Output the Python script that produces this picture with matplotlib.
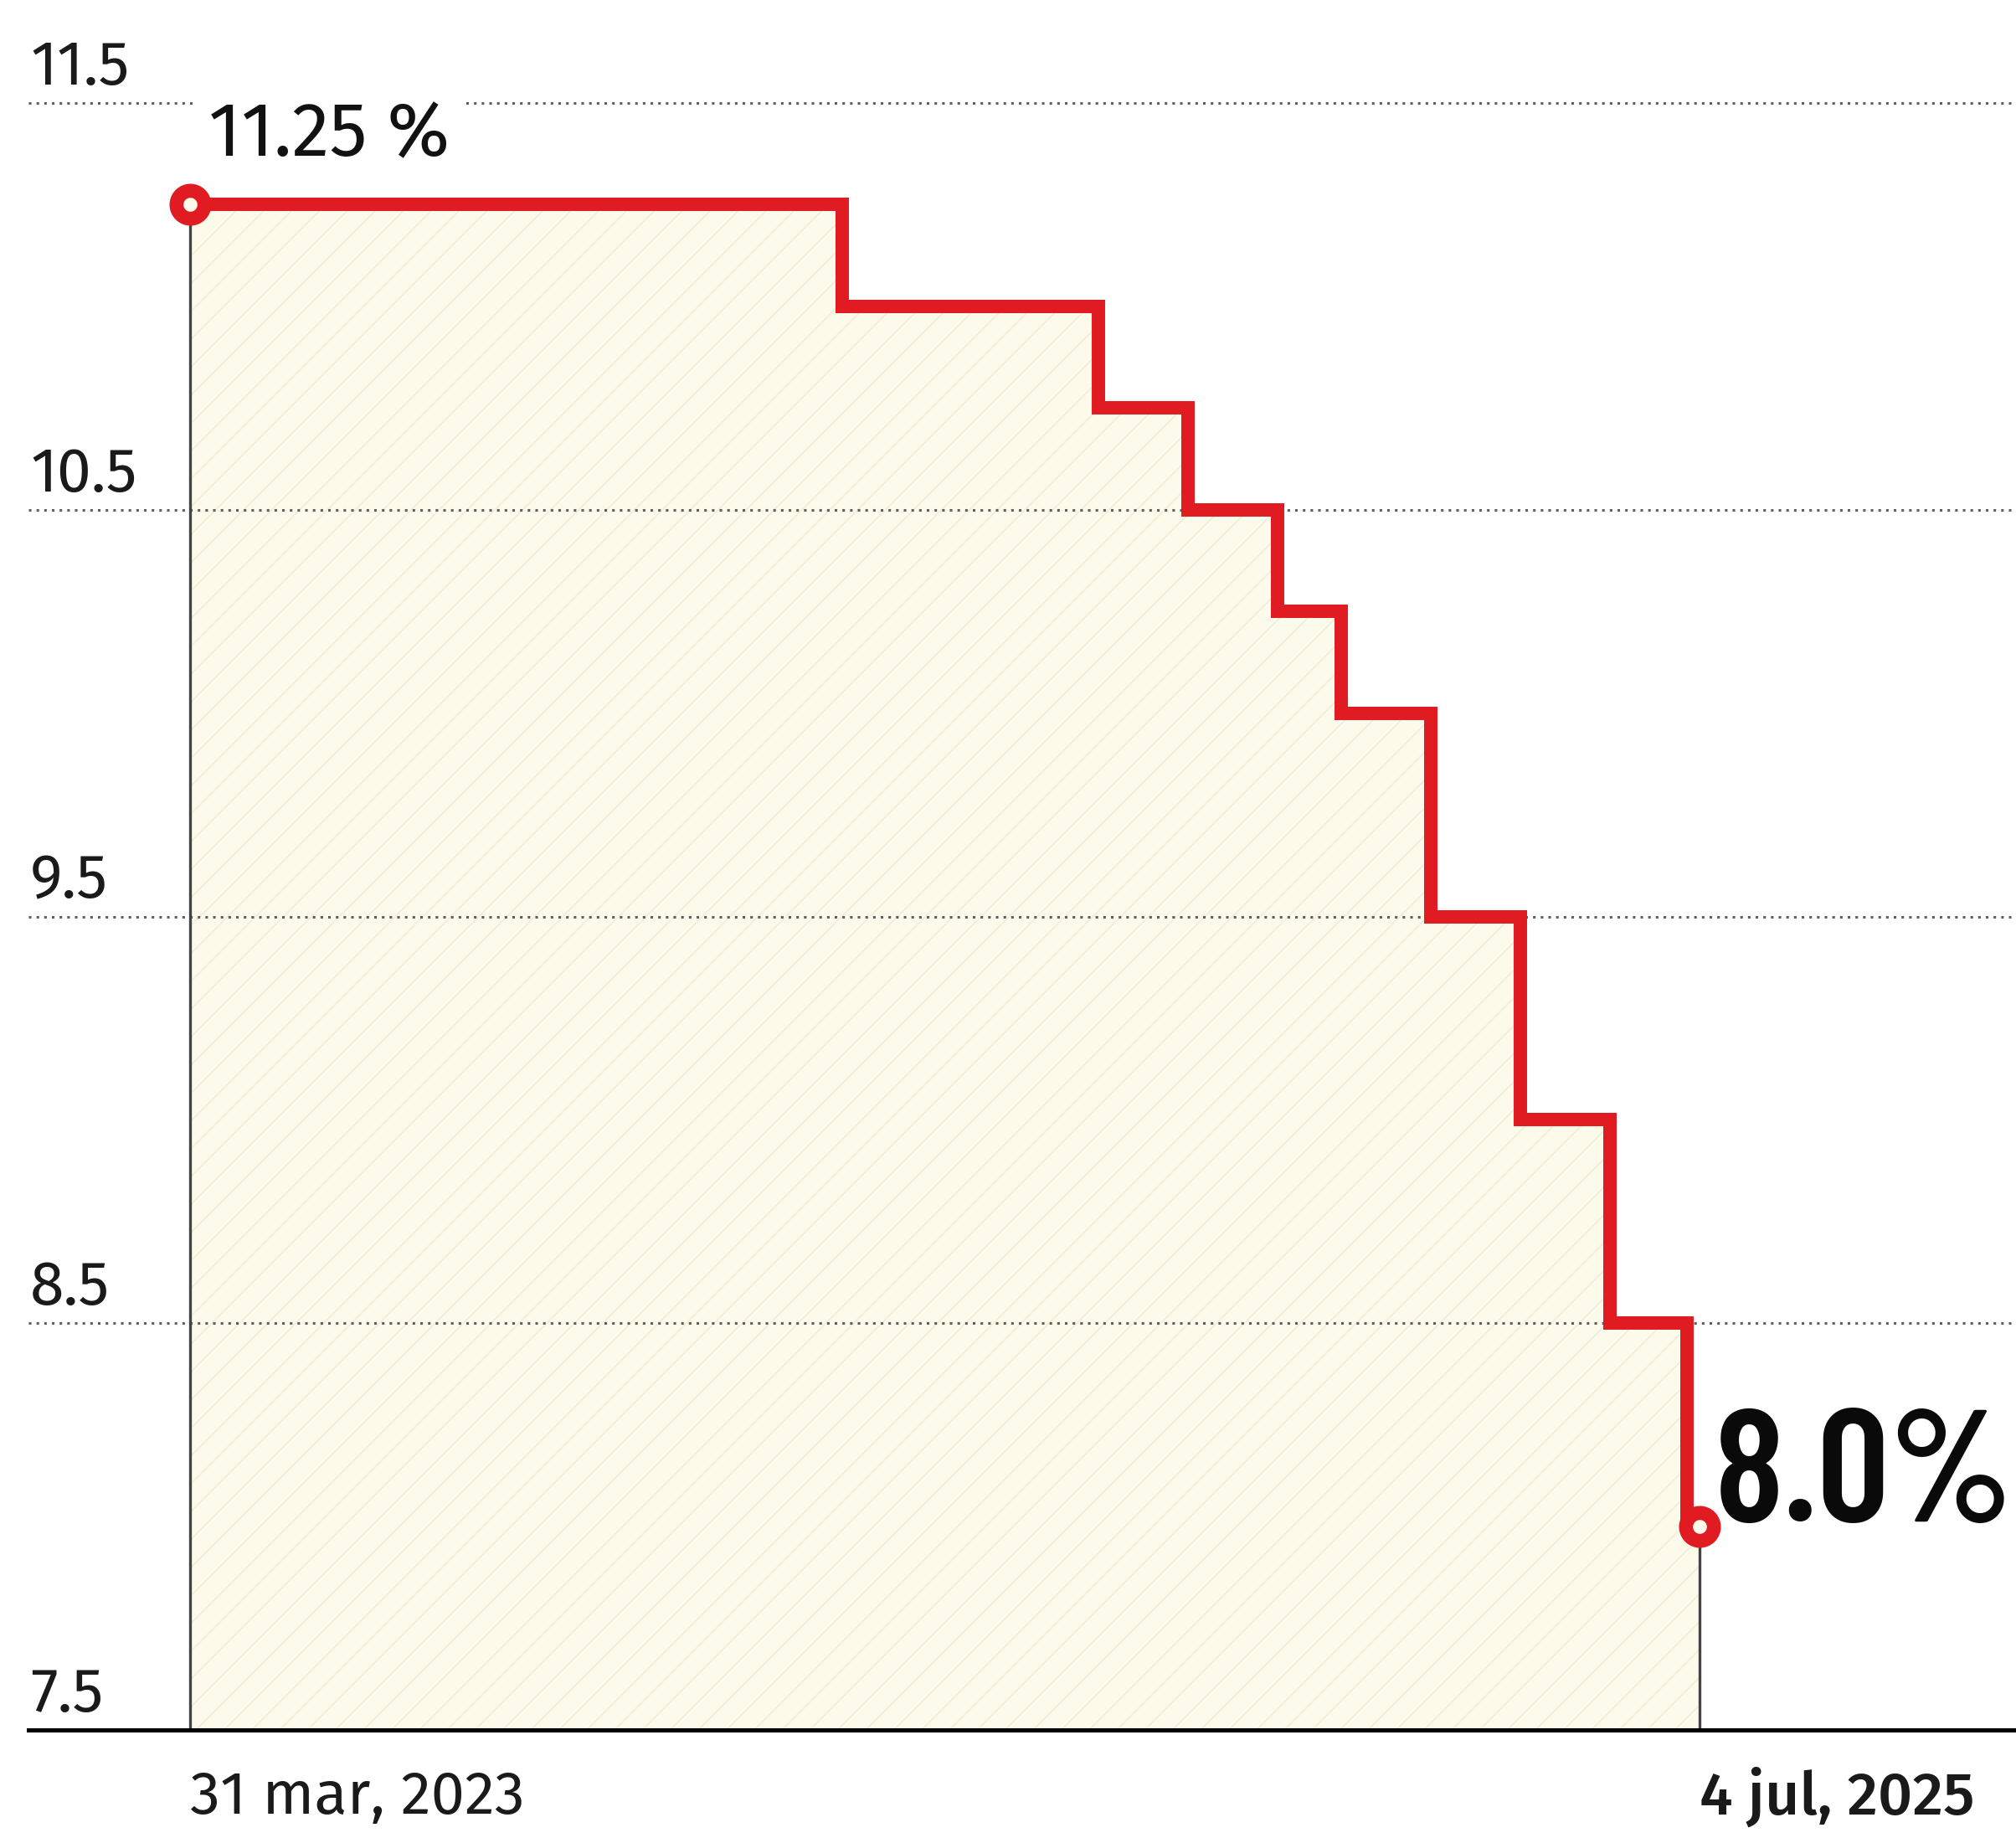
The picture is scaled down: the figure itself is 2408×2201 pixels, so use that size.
import matplotlib
matplotlib.use('Agg')
import matplotlib.pyplot as plt
import matplotlib.transforms as mtransforms
import pandas as pd

# ---- data ----
change_dates = ['2023-03-31', '2024-03-22', '2024-08-09', '2024-09-27', '2024-11-15',
                '2024-12-20', '2025-02-07', '2025-03-28', '2025-05-16', '2025-06-27',
                '2025-07-04']
rates = [11.25, 11.0, 10.75, 10.5, 10.25, 10.0, 9.5, 9.0, 8.5, 8.0, 8.0]
y_ticks = [7.5, 8.5, 9.5, 10.5, 11.5]
y_tick_labels = ['7.5', '8.5', '9.5', '10.5', '11.5']
start_label = '31 mar, 2023'
end_label = '4 jul, 2025'
start_value_label = '11.25 %'
end_value_label = '8.0%'

RED = '#E11B22'
plt.rcParams['font.family'] = ['Fira Sans', 'Roboto', 'DejaVu Sans']
plt.rcParams['hatch.linewidth'] = 1.2
BIG_FONT = ['Barlow Condensed', 'Roboto Condensed', 'DejaVu Sans']

W, H = 2408, 2201
fig = plt.figure(figsize=(W / 100, H / 100), dpi=100)
fig.patch.set_facecolor('white')
ax_left, ax_bottom_px, ax_top_px = 34, 2066, 123
ax = fig.add_axes([ax_left / W, (H - ax_bottom_px) / H, 1 - ax_left / W,
                   (ax_bottom_px - ax_top_px) / H])
ax.set_facecolor('none')

dates = pd.to_datetime(change_dates)
ymin, ymax = y_ticks[0], y_ticks[-1]

ax.fill_between(dates, ymin, rates, step='post', facecolor='#FCFAEB',
                hatch='/', edgecolor='#F1EDD8', linewidth=0, zorder=1)

for y in y_ticks[1:]:
    ax.axhline(y, color='#5f5f5f', lw=2.2, ls=(0, (1, 2.0)), zorder=2, clip_on=False)

for d, r in [(dates[0], rates[0]), (dates[-1], rates[-1])]:
    ax.plot([d, d], [ymin, r], color='#444444', lw=2.4, zorder=3)

ax.step(dates, rates, where='post', color=RED, lw=11.5, zorder=4,
        solid_joinstyle='miter', solid_capstyle='butt')
ax.plot([dates[0], dates[-1]], [rates[0], rates[-1]], 'o', ms=24, mfc='#FFFBEA',
        mec=RED, mew=12, zorder=5, clip_on=False)

ax.set_ylim(ymin, ymax)
ax.set_xlim(dates[0] - pd.Timedelta(days=88.4), dates[-1] + pd.Timedelta(days=173.2))
ax.set_xticks([])
ax.set_yticks([])
for s in ['left', 'right', 'top']:
    ax.spines[s].set_visible(False)
ax.spines['bottom'].set_linewidth(3.6)
ax.spines['bottom'].set_color('black')
ax.spines['bottom'].set_zorder(6)

# y labels above gridlines
ytrans = mtransforms.blended_transform_factory(ax.transAxes, ax.transData)
off = mtransforms.ScaledTranslation(2 / 100, 22 / 100, fig.dpi_scale_trans)
for y, lab in zip(y_ticks, y_tick_labels):
    ax.text(0.0, y, lab, transform=ytrans + off, ha='left', va='baseline',
            fontsize=53, color='#1a1a1a', clip_on=False)

# value labels
ax.text(dates[0], ymax, start_value_label,
        transform=ax.transData + mtransforms.ScaledTranslation(22 / 100, -63 / 100, fig.dpi_scale_trans),
        ha='left', va='baseline', fontsize=65, color='#111111',
        bbox=dict(facecolor='white', edgecolor='none', pad=10), zorder=7, clip_on=False)
big = ax.text(dates[-1], rates[-1], end_value_label,
              transform=ax.transData + mtransforms.ScaledTranslation(18 / 100, 6 / 100, fig.dpi_scale_trans),
              ha='left', va='baseline', fontsize=168, color='#0a0a0a', fontweight='semibold',
              family=BIG_FONT, zorder=7, clip_on=False)

# shrink the big label only if it would run past the right edge
renderer = fig.canvas.get_renderer()
bb = big.get_window_extent(renderer)
if bb.x1 > W - 3:
    big.set_fontsize(168 * (W - 3 - bb.x0) / bb.width)

# date labels under axis
xtrans = mtransforms.blended_transform_factory(ax.transData, ax.transAxes)
doff = mtransforms.ScaledTranslation(0, -100 / 100, fig.dpi_scale_trans)
ax.text(dates[0], 0, start_label, transform=xtrans + doff, ha='left', va='baseline',
        fontsize=52, color='#1a1a1a', clip_on=False)
ax.text(dates[-1], 0, end_label, transform=xtrans + doff, ha='left', va='baseline',
        fontsize=52, color='#1a1a1a', fontweight='medium', clip_on=False)

fig.savefig('out.png', dpi=100, facecolor='white')
